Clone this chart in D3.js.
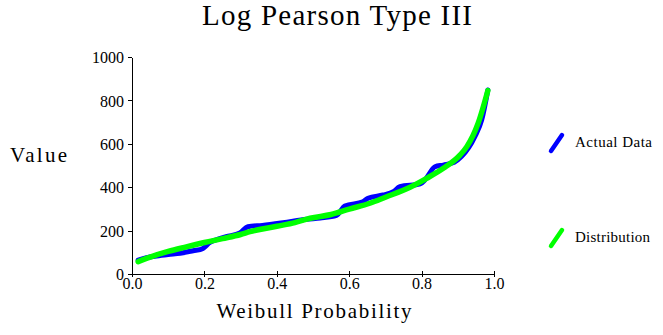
<!DOCTYPE html>
<html lang="en">
<head>
    <meta charset="UTF-8" />
    <title>Log Pearson Type III</title>
    <script src="https://cdnjs.cloudflare.com/ajax/libs/d3/7.8.5/d3.min.js"></script>
    <style>
        body {
            margin: 0;
            padding: 0;
            background: #fff;
        }

        svg text {
            font-family: 'Liberation Serif', 'Times New Roman', serif;
            fill: #000;
        }

        .axis path,
        .axis line {
            stroke: #000;
            stroke-width: 1;
            shape-rendering: crispEdges;
        }
    </style>
</head>
<body>
    <svg id="chart" width="663" height="335"></svg>

    <script>
        // actual data (weibull plotting positions)
        const actualProb = [0.017, 0.04, 0.068, 0.1, 0.133, 0.169, 0.196, 0.215, 0.24, 0.26, 0.298, 0.32,
            0.36, 0.417, 0.483, 0.52, 0.565, 0.588, 0.638, 0.652, 0.693, 0.722, 0.74, 0.796, 0.81,
            0.837, 0.86, 0.89, 0.91, 0.947, 0.966, 0.983];
        const actualValue = [64, 75, 83, 90, 96, 107, 118, 145, 162, 172, 189, 218,
            224, 236, 252, 258, 270, 313, 333, 349, 364, 379, 402, 415, 435,
            494, 502, 515, 541, 633, 710, 848];

        // fitted LP3 distribution
        const distProb = [0.017, 0.05, 0.1, 0.15, 0.2, 0.25, 0.3, 0.326, 0.4, 0.45, 0.492, 0.55,
            0.6, 0.657, 0.7, 0.768, 0.814, 0.86, 0.906, 0.925, 0.956, 0.983];
        const distValue = [57, 78, 104, 125, 145, 163, 182, 195, 220, 237, 257, 274,
            299, 326, 354, 400, 441, 487, 548, 587, 694, 845];

        const xTicks = [0, 0.2, 0.4, 0.6, 0.8, 1.0];
        const yTicks = [0, 200, 400, 600, 800, 1000];

        const legendLabels = ["Actual Data", "Distribution"];
        const colors = ["#0000ff", "#00ff00"];

        const svg = d3.select("#chart");

        const x = d3.scaleLinear().domain([0, 1]).range([132, 494]);
        const y = d3.scaleLinear().domain([0, 1000]).range([274, 57]);

        // y axis
        const yAxis = svg.append("g")
            .attr("class", "axis")
            .attr("transform", "translate(132,0)")
            .call(d3.axisLeft(y).tickValues(yTicks).tickFormat(d3.format("d"))
                .tickSize(4).tickPadding(4).tickSizeOuter(0));
        yAxis.selectAll("text").style("font-size", "16px").attr("dy", "0.35em");

        // x axis (ticks cross the line)
        const xAxis = svg.append("g")
            .attr("class", "axis")
            .attr("transform", "translate(0,274)")
            .call(d3.axisBottom(x).tickValues(xTicks).tickFormat(d3.format(".1f"))
                .tickSize(3).tickPadding(1).tickSizeOuter(0));
        xAxis.selectAll(".tick line").attr("y1", -3);
        xAxis.selectAll("text").style("font-size", "16px");

        const line = d3.line()
            .x(d => x(d[0]))
            .y(d => y(d[1]))
            .curve(d3.curveMonotoneX);

        const actual = actualProb.map((p, i) => [p, actualValue[i]]);
        const dist = distProb.map((p, i) => [p, distValue[i]]);

        svg.append("path")
            .datum(actual)
            .attr("d", line)
            .attr("fill", "none")
            .attr("stroke", colors[0])
            .attr("stroke-width", 5)
            .attr("stroke-linejoin", "round")
            .attr("stroke-linecap", "round");

        svg.append("path")
            .datum(dist)
            .attr("d", line)
            .attr("fill", "none")
            .attr("stroke", colors[1])
            .attr("stroke-width", 5.5)
            .attr("stroke-linejoin", "round")
            .attr("stroke-linecap", "round");

        // title and axis labels
        svg.append("text")
            .attr("x", 337).attr("y", 25)
            .attr("text-anchor", "middle")
            .attr("textLength", 270)
            .style("font-size", "29px")
            .text("Log Pearson Type III");

        svg.append("text")
            .attr("x", 314).attr("y", 318)
            .attr("text-anchor", "middle")
            .attr("textLength", 195)
            .style("font-size", "21px")
            .text("Weibull Probability");

        svg.append("text")
            .attr("x", 10).attr("y", 162)
            .attr("textLength", 57)
            .style("font-size", "21px")
            .text("Value");

        // legend
        const legend = svg.append("g")
            .selectAll("g")
            .data(legendLabels)
            .join("g")
            .attr("transform", (d, i) => `translate(550,${151 + i * 95})`);

        legend.append("line")
            .attr("x1", 1).attr("y1", 0)
            .attr("x2", 12).attr("y2", -16)
            .attr("stroke", (d, i) => colors[i])
            .attr("stroke-width", 4.5)
            .attr("stroke-linecap", "round");

        legend.append("text")
            .attr("x", 25).attr("y", -4)
            .attr("textLength", (d, i) => i === 0 ? 77 : 75)
            .style("font-size", "15px")
            .text(d => d);
    </script>
</body>
</html>
